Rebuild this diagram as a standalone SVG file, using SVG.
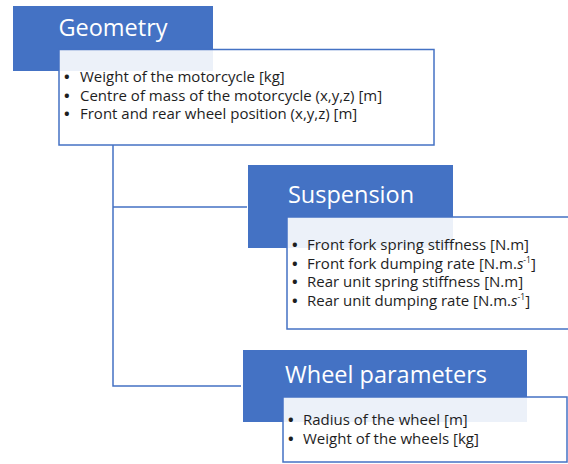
<svg xmlns="http://www.w3.org/2000/svg" width="568" height="464" viewBox="0 0 568 464">
<style>
.hdr{fill:#4472C4;}
.box{fill:#ffffff;fill-opacity:0.9;stroke:#4472C4;stroke-width:1.5;}
.ht{font-family:"Open Sans","Liberation Sans",sans-serif;font-size:23.5px;fill:#ffffff;text-anchor:middle;}
.lt{font-family:"Open Sans","Liberation Sans",sans-serif;font-size:15px;fill:#1e1e1e;}
.b{font-weight:bold;}
.con{stroke:#4472C4;stroke-width:1.5;fill:none;}
</style>
<rect width="568" height="464" fill="#ffffff"/>
<g id="connectors">
<path class="con" d="M113,145 V386 H241 M113,207 H247"/>
</g>
<g id="geometry">
<rect class="hdr" x="13" y="6" width="200" height="65"/>
<text class="ht" x="113" y="36">Geometry</text>
<rect class="box" x="59" y="49.5" width="375" height="95.5"/>
<text class="lt" x="64" y="82"><tspan class="b">•</tspan><tspan x="80">Weight of the motorcycle [kg]</tspan></text>
<text class="lt" x="64" y="100.5"><tspan class="b">•</tspan><tspan x="80">Centre of mass of the motorcycle (x,y,z) [m]</tspan></text>
<text class="lt" x="64" y="119"><tspan class="b">•</tspan><tspan x="80">Front and rear wheel position (x,y,z) [m]</tspan></text>
</g>
<g id="suspension">
<rect class="hdr" x="248" y="165" width="205" height="83"/>
<text class="ht" x="351" y="203">Suspension</text>
<rect class="box" x="287" y="217" width="290" height="112"/>
<text class="lt" x="292" y="250"><tspan class="b">•</tspan><tspan x="307">Front fork spring stiffness [N.m]</tspan></text>
<text class="lt" x="292" y="268.5"><tspan class="b">•</tspan><tspan x="307">Front fork dumping rate [N.m.<tspan font-style="italic">s</tspan><tspan font-size="8.5" dy="-5.5">-1</tspan><tspan dy="5.5">]</tspan></tspan></text>
<text class="lt" x="292" y="287"><tspan class="b">•</tspan><tspan x="307">Rear unit spring stiffness [N.m]</tspan></text>
<text class="lt" x="292" y="305.5"><tspan class="b">•</tspan><tspan x="307">Rear unit dumping rate [N.m.<tspan font-style="italic">s</tspan><tspan font-size="8.5" dy="-5.5">-1</tspan><tspan dy="5.5">]</tspan></tspan></text>
</g>
<g id="wheel">
<rect class="hdr" x="243" y="350" width="284" height="72"/>
<text class="ht" x="386" y="383">Wheel parameters</text>
<rect class="box" x="283" y="397" width="284" height="65"/>
<text class="lt" x="288" y="425"><tspan class="b">•</tspan><tspan x="303">Radius of the wheel [m]</tspan></text>
<text class="lt" x="288" y="443.5"><tspan class="b">•</tspan><tspan x="303">Weight of the wheels [kg]</tspan></text>
</g>
</svg>
